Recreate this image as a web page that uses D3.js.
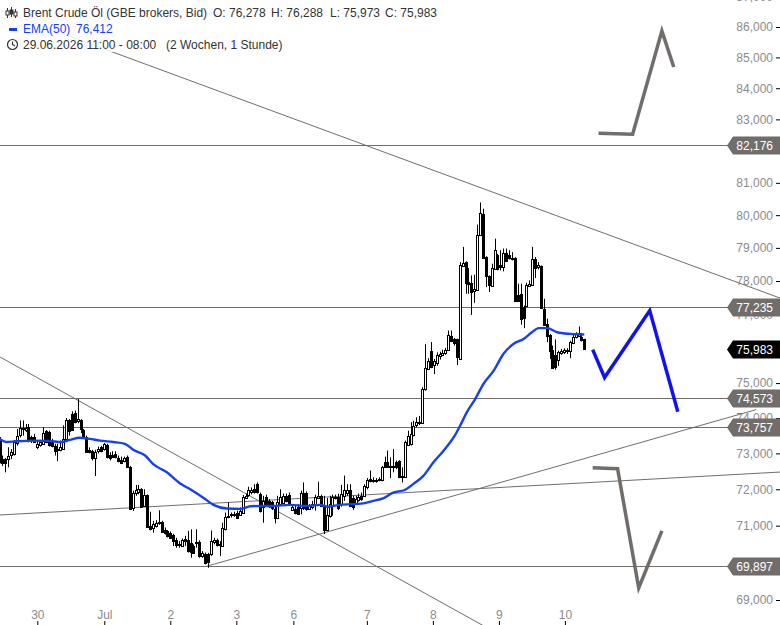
<!DOCTYPE html>
<html>
<head>
<meta charset="utf-8">
<script src="https://cdn.jsdelivr.net/npm/d3@7"></script>
<style>
  body { margin: 0; background: #fff; }
  svg { display: block; font-family: "Liberation Sans", Arial, sans-serif; }
</style>
</head>
<body>
<svg id="chart" width="780" height="625"></svg>
<script>
// hourly candles (slot = position on the time axis)
const opens = [
  73380,72840,72840,72860,72940,72980,73290,73500,73680,73640,
  73740,73450,73470,73170,73220,73270,73630,73600,73360,73200,
  73120,73100,73120,73410,73950,74120,74140,73910,73950,73660,
  73470,73100,73060,72870,73050,73170,73100,73240,72960,72960,
  72980,72870,72820,72800,72910,72630,71490,71890,71910,72000,
  71540,71840,70990,70920,71010,71060,71110,70880,70860,70810,
  70740,70600,70470,70450,70630,70600,70540,70450,70530,70560,
  70180,70240,70220,70240,70560,70610,70480,70450,70900,71240,
  71270,71290,71360,71310,71360,71770,71820,71910,72000,72140,
  71860,71520,71790,71680,71640,71450,71200,71610,71640,71820,
  71850,71450,71450,71520,71480,71890,71910,71450,71520,71590,
  71770,71820,71540,70880,71270,71570,71760,71790,71590,71820,
  71910,71990,71770,71610,71700,71820,71820,72070,72280,72260,
  72220,72260,72260,72770,72770,72650,72640,72750,72780,72380,
  72350,73260,73260,73520,73800,73840,73860,74830,75430,75940,
  75500,75600,75780,75820,75870,75960,76380,76270,76270,75700,
  78470,78570,77970,77940,77720,77750,79400,80050,78720,78140,
  77870,78390,78770,78470,78440,78850,78770,78670,78700,77590,
  77620,77220,77250,77870,77890,78670,78420,78440,77170,76730,
  76400,75970,75800,75650,75890,75890,75930,75940,76170,76350,
  76380,76340,76278
]
const highs = [
  73460,72940,72870,73170,73120,73380,73690,73930,73930,73830,
  73830,73500,73550,73360,73380,73740,73660,73640,73410,73270,
  73270,73360,73790,74000,73970,74190,74210,74540,73970,73690,
  73500,73170,73100,73100,73190,73210,73290,73270,73030,73060,
  73060,72940,72910,72910,72940,72650,71960,72120,72120,72030,
  72000,71860,71380,71130,71150,71420,71130,70950,70880,70840,
  70780,70670,70580,70650,70720,70860,70900,70490,70900,70600,
  70310,70270,70260,70870,70670,70650,70580,71080,71360,71640,
  71360,71380,71410,71500,71840,71880,72070,72050,72140,72190,
  71910,71820,71850,71730,71680,71540,71820,72000,71880,71880,
  71910,71590,71540,71590,71960,72190,71940,71590,71680,71850,
  72210,71850,71820,71760,71820,71850,71850,71880,72120,72380,
  72140,72140,71820,71820,71880,71910,72140,72310,72520,72330,
  72310,72330,72650,72910,73080,72890,73120,72800,72810,72610,
  73360,73640,73880,73920,74020,74060,74880,76130,75720,76190,
  75700,75890,75910,75970,76020,76530,76530,76310,76290,78570,
  79030,78590,78390,78170,78190,79710,80390,80200,78750,78170,
  78520,79280,78820,78930,78980,78980,78930,78870,78720,77920,
  77920,77270,77950,78020,79030,78720,78570,78470,77470,76880,
  76430,76090,76270,75940,75990,76010,76010,76230,76400,76480,
  76650,76460,76288
]
const lows = [
  72720,72650,72470,72610,72840,72940,73220,73450,73500,73600,
  73310,73290,73310,73120,73190,73250,73290,73190,73170,72940,
  72780,73060,73100,73380,73500,73640,73850,73850,73570,73410,
  73040,73000,72800,72370,73000,73030,73080,72860,72800,72870,
  72860,72750,72720,72750,72610,71450,71400,71820,71860,71490,
  71510,70950,70870,70810,70950,71020,70810,70760,70680,70650,
  70450,70400,70400,70420,70450,70270,70130,70240,70400,70130,
  70130,69950,69860,70180,70490,70430,70180,70420,70870,71200,
  71220,71240,71200,71270,71330,71730,71790,71860,71880,71880,
  71360,71080,71520,71480,71430,71060,71180,71570,71610,71640,
  71590,71430,71310,71290,71310,71430,71410,71430,71450,71410,
  71730,71520,70770,70850,71220,71270,71720,71430,71520,71680,
  71820,71520,71430,71570,71660,71680,71790,72000,72190,72180,
  72180,72220,72220,72590,72590,72310,72470,72560,72310,72190,
  72320,73220,73220,73480,73730,73800,73830,74780,75390,75430,
  75260,75500,75680,75780,75820,75940,76190,76090,75520,75680,
  78420,77620,77620,76990,77350,77720,79360,78670,77820,77670,
  77820,78350,78320,78320,78290,78570,78650,78620,77390,77370,
  76700,76600,77220,77820,77870,78090,78350,77170,76680,76190,
  75700,75410,75390,75500,75820,75840,75840,75720,76140,76300,
  76340,76210,75973
]
const closes = [
  72800,72720,72730,72940,73030,73310,73500,73710,73710,73710,
  73360,73360,73340,73250,73310,73580,73310,73220,73220,73060,
  73080,73190,73410,73950,73640,73670,73880,73970,73690,73450,
  73060,73030,72870,73050,73120,73060,73250,72890,72870,72910,
  72890,72800,72750,72870,72630,71480,71890,71980,72000,71510,
  71840,70970,70900,71040,71080,71090,70840,70810,70720,70680,
  70580,70470,70490,70620,70580,70290,70290,70270,70560,70180,
  70270,70000,70000,70580,70620,70470,70510,70930,71240,71270,
  71310,71330,71220,71410,71790,71820,71970,71970,71910,71910,
  71400,71680,71540,71590,71480,71200,71640,71790,71820,71680,
  71640,71520,71330,71330,71890,71480,71480,71540,71590,71800,
  71820,71540,70880,71300,71590,71790,71790,71480,71870,71980,
  71990,71540,71520,71730,71790,71750,72100,72260,72220,72240,
  72260,72280,72610,72630,72630,72640,72650,72610,72330,72350,
  73330,73500,73540,73780,73880,73880,74830,75430,75650,75460,
  75630,75820,75850,75880,75960,76400,76220,76140,75750,78470,
  78550,77950,77920,77670,77770,79400,80080,78720,78140,77870,
  78400,78950,78350,78420,78850,78620,78690,78700,77420,77420,
  76890,76890,77890,77920,78670,78390,78490,77190,76700,76380,
  75940,75460,75460,75890,75940,75960,75970,76190,76350,76430,
  76460,76240,75983
]

// EMA(50)
const emaSlots = [0,2.3,5.8,11.6,17.3,21.4,24.3,27.7,31.2,34.7,39.3,43.3,46.2,50.3,53.1,57.8,62.4,65.9,70.5,73.9,78.6,83.2,86.7,90.1,94.4,100.2,106,110.6,113.5,117.5,125.6,129,132.5,136,140,143,146.4,149.9,153.3,157.4,159.1,161.4,164.3,167.2,170.7,174.1,177.6,181,183.9,186.3,189.2,192.6,197.2,202]
const emaValues = [73410,73320,73340,73360,73350,73320,73380,73440,73410,73360,73320,73270,73100,72940,72700,72470,72160,72000,71760,71570,71470,71460,71530,71540,71540,71570,71540,71570,71520,71570,71610,71680,71750,71910,71980,72150,72370,72750,73070,73520,73780,74160,74540,74980,75360,75850,76140,76280,76480,76600,76600,76480,76430,76412]

// 70,000 76,000 and 82,000 sit fully behind the price tags, so they are left out
const priceTicks = [69000,71000,72000,73000,74000,75000,77000,78000,79000,80000,81000,83000,84000,85000,86000,87000]
const timeSlots = [13.06,36.2,59,81.8,101.5,126.9,149.7,172.5,195.3]
const timeLabels = ['30','Jul','2','3','6','7','8','9','10']

// support / resistance levels with their tags
const levels = [82176,77235,74573,73757,69897]

// trend lines: [slot, price, slot, price]
const trendLines = [
  [-0.35,86565,270,77478],
  [-0.35,75780,167.4,68310],
  [71.4,69897,261.4,74240],
  [-0.35,71290,270,72480]
]

// hand drawn scenario arrows
const arrowGrayUpSlots = [206.9,218.7,228.8,232.9]
const arrowGrayUpPrices = [82560,82530,85870,84690]
const arrowBlueSlots = [204.9,209,224.6,234.3]
const arrowBluePrices = [75970,75160,77120,74180]
const arrowGrayDownSlots = [204.9,213.5,220.8,228.8]
const arrowGrayDownPrices = [72600,72570,69320,70860]

const lastPrice = 75983
const emaLast = 76412

const gray = '#716d6a'
const blue = '#1440f0'
const labelGray = '#8b8b8b'

const svg = d3.select('#chart')

const xscale = d3.scaleLinear().domain([0, 202]).range([-0.5, 584.3])
const yscale = d3.scaleLog().domain([69000, 86000]).range([600, 27])
const fmt = d3.format(',')

// price axis
const yAxis = d3.axisLeft(yscale).tickValues(priceTicks).tickFormat(fmt).tickSize(4).tickPadding(3)
const yG = svg.append('g').attr('transform', 'translate(780, 0)').call(yAxis)
yG.select('.domain').remove()
yG.selectAll('text').attr('fill', labelGray).attr('font-size', 12).attr('font-family', 'inherit')
yG.selectAll('line').attr('stroke', '#000')

// time axis
const xAxis = d3.axisBottom(xscale).tickValues(timeSlots).tickFormat((d, i) => timeLabels[i]).tickSize(-4).tickPadding(-6)
const xG = svg.append('g').attr('transform', 'translate(0, 625)').call(xAxis)
xG.select('.domain').remove()
xG.selectAll('text').attr('fill', labelGray).attr('font-size', 12).attr('font-family', 'inherit').attr('dy', '0')
xG.selectAll('line').attr('stroke', '#000')

// horizontal levels and trend lines
svg.append('g').selectAll('line').data(levels).enter().append('line')
  .attr('x1', 0).attr('x2', 730)
  .attr('y1', d => Math.round(yscale(d)) + 0.5).attr('y2', d => Math.round(yscale(d)) + 0.5)
  .attr('stroke', gray).attr('stroke-width', 1)

svg.append('g').selectAll('line').data(trendLines).enter().append('line')
  .attr('x1', d => xscale(d[0])).attr('y1', d => yscale(d[1]))
  .attr('x2', d => xscale(d[2])).attr('y2', d => yscale(d[3]))
  .attr('stroke', gray).attr('stroke-width', 1)

// candles
const candles = svg.append('g').selectAll('g').data(opens).enter().append('g')
candles.append('line')
  .attr('x1', (d, i) => Math.round(xscale(i)) + 0.5).attr('x2', (d, i) => Math.round(xscale(i)) + 0.5)
  .attr('y1', (d, i) => yscale(highs[i])).attr('y2', (d, i) => yscale(lows[i]))
  .attr('stroke', '#000').attr('stroke-width', 1)
candles.append('rect')
  .attr('x', (d, i) => Math.round(xscale(i)) - 0.5)
  .attr('width', 2)
  .attr('y', (d, i) => Math.round(yscale(Math.max(d, closes[i]))) + 0.5)
  .attr('height', (d, i) => Math.max(1, Math.round(Math.abs(yscale(d) - yscale(closes[i])))))
  .attr('fill', (d, i) => closes[i] < d ? '#000' : '#fff')
  .attr('stroke', '#000').attr('stroke-width', 1)

// EMA
const emaLine = d3.line().x((d, i) => xscale(emaSlots[i])).y(d => yscale(d)).curve(d3.curveMonotoneX)
svg.append('path').attr('d', emaLine(emaValues))
  .attr('fill', 'none').attr('stroke', blue).attr('stroke-width', 2.4)

// arrows
const drawArrow = (slots, prices, color) => {
  const line = d3.line().x((d, i) => xscale(slots[i])).y(d => yscale(d))
  svg.append('path').attr('d', line(prices))
    .attr('fill', 'none').attr('stroke', color).attr('stroke-width', 3.5)
    .attr('stroke-linejoin', 'miter')
}
drawArrow(arrowGrayUpSlots, arrowGrayUpPrices, gray)
drawArrow(arrowBlueSlots, arrowBluePrices, '#1212f0')
drawArrow(arrowGrayDownSlots, arrowGrayDownPrices, gray)

// price tags on the right edge
const drawTag = (price, fill) => {
  const yp = Math.round(yscale(price)) + 0.5
  const g = svg.append('g').attr('transform', `translate(0, ${yp})`)
  g.append('path').attr('d', 'M727,0 L733,-9 L780,-9 L780,9 L733,9 Z').attr('fill', fill)
  g.append('text').text(fmt(price)).attr('x', 773).attr('y', 4.5)
    .attr('text-anchor', 'end').attr('fill', '#fff').attr('font-size', 12)
}
levels.forEach(d => drawTag(d, gray))
drawTag(lastPrice, '#000')

// legend, veil over the trend line behind it
svg.append('rect').attr('x', 0).attr('y', 0).attr('width', 440).attr('height', 52).attr('fill', '#fff').attr('opacity', 0.9)

const legendText = (txt, x, y, color) => svg.append('text').text(txt)
  .attr('x', x).attr('y', y).attr('font-size', 12).attr('fill', color)
const ink = '#333'
legendText('Brent Crude Öl (GBE brokers, Bid)', 23, 17, ink)
legendText('O: ' + fmt(opens[202]), 213, 17, ink)
legendText('H: ' + fmt(highs[202]), 271, 17, ink)
legendText('L: ' + fmt(lows[202]), 330, 17, ink)
legendText('C: ' + fmt(closes[202]), 385, 17, ink)
legendText('EMA(50)', 23, 33, blue)
legendText(fmt(emaLast), 76, 33, blue)
legendText('29.06.2026 11:00 - 08:00', 23, 49, ink)
legendText('(2 Wochen, 1 Stunde)', 166, 49, ink)

// candle glyph
const glyph = svg.append('g').attr('stroke', ink).attr('fill', 'none').attr('stroke-width', 1)
glyph.append('path').attr('d', 'M7.5,8V18 M11.5,7V17 M15.5,9V18')
glyph.append('rect').attr('x', 6).attr('y', 11).attr('width', 3).attr('height', 4).attr('fill', '#fff')
glyph.append('rect').attr('x', 10).attr('y', 10).attr('width', 3).attr('height', 4).attr('fill', ink)
glyph.append('rect').attr('x', 14).attr('y', 12).attr('width', 3).attr('height', 4).attr('fill', '#fff')

// ema dash
svg.append('rect').attr('x', 9).attr('y', 28).attr('width', 8).attr('height', 3).attr('fill', blue)

// clock
const clock = svg.append('g').attr('stroke', ink).attr('fill', 'none').attr('stroke-width', 1.2)
clock.append('circle').attr('cx', 12.5).attr('cy', 44.5).attr('r', 5)
clock.append('path').attr('d', 'M12.5,41.5V44.5L15,46')
</script>
</body>
</html>
